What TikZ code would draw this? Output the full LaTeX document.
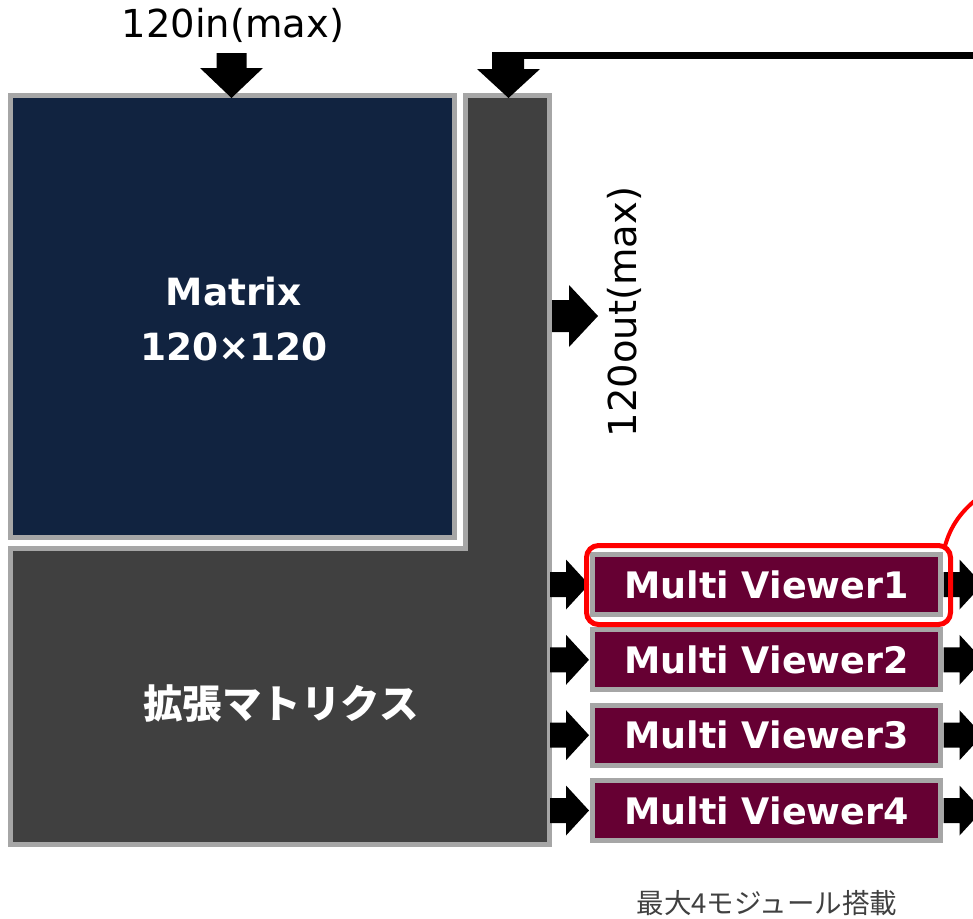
\documentclass[tikz,border=0pt]{standalone}
\usepackage{fontspec}
\setmainfont{DejaVu Sans}
\newfontfamily\jp{Noto Sans CJK JP}
\definecolor{navy}{RGB}{17,35,64}
\definecolor{dgray}{RGB}{64,64,64}
\definecolor{bgray}{RGB}{166,166,166}
\definecolor{mvred}{RGB}{102,0,51}
\tikzset{
  box/.style={draw=bgray, line width=5pt},
  blockarrow/.style={fill=black},
  mvbox/.style={box, fill=mvred, minimum width=348pt, minimum height=60pt, inner sep=0pt,
    text=white, font=\bfseries\fontsize{36.5}{40}\selectfont},
  rarr/.pic={\fill[black] (0,-12.5) -- (16,-12.5) -- (16,-25) -- (39,0) -- (16,25) -- (16,12.5) -- (0,12.5) -- cycle;},
  bigtext/.style={font=\fontsize{38.5}{44}\selectfont, inner sep=0pt},
  boldtext/.style={font=\bfseries\fontsize{37.5}{44}\selectfont, text=white, inner sep=0pt}
}
\begin{document}
\begin{tikzpicture}[x=1pt,y=-1pt]
\useasboundingbox (0,0) rectangle (973,918);
\clip (0,0) rectangle (973,918);

% Matrix box
\node[box, fill=navy, minimum width=443.5pt, minimum height=441.5pt, inner sep=0pt] (matrix) at (232.25,316.25) {};
\node[boldtext, anchor=base] (mtitle) at (234,305) {Matrix};
\node[boldtext, anchor=base] (msize) at (234,360) {120×120};

% L-shaped expansion matrix
\draw[box, fill=dgray] (465,95.5) -- (549.5,95.5) -- (549.5,844.5) -- (10.5,844.5) -- (10.5,548.5) -- (465,548.5) -- cycle;
\node[font=\jp\bfseries\fontsize{39.5}{44}\selectfont, text=white, inner sep=0pt] (ext) at (281,703) {拡張マトリクス};

% top input label and arrow
\node[bigtext, anchor=base] (inlabel) at (233,37) {120in(max)};
\fill[black] (216.5,53) -- (246.5,53) -- (246.5,68) -- (263,68) -- (231.5,98) -- (200,68) -- (216.5,68) -- cycle;

% feedback line and arrow
\fill[black] (492,52) -- (524,52) -- (524,69) -- (540,69) -- (508.5,98) -- (477,69) -- (492,69) -- cycle;
\draw[black, line width=7pt] (520,55.8) -- (985,55.8);

% 120out arrow and label
\fill[black] (552,300) -- (569,300) -- (569,285) -- (598,316) -- (569,347) -- (569,332) -- (552,332) -- cycle;
\node[bigtext, rotate=90] (outlabel) at (624,312) {120out(max)};

% Multi viewers
\node[mvbox] (mv1) at (766.5,584.5) {Multi Viewer1};
\node[mvbox] (mv2) at (766.5,659.8) {Multi Viewer2};
\node[mvbox] (mv3) at (766.5,735.2) {Multi Viewer3};
\node[mvbox] (mv4) at (766.5,810.5) {Multi Viewer4};
\foreach \m in {mv1,mv2,mv3,mv4}{
  \pic at ([xshift=-40pt]\m.west) {rarr};
  \pic at ([xshift=0.5pt]\m.east) {rarr};
}

% highlight
\node[draw=red, line width=5pt, rounded corners=12pt, minimum width=364pt, minimum height=79pt, inner sep=0pt] (hl) at (768.5,585) {};
\draw[red, line width=4pt] (945,546) .. controls (950,528) and (960,510) .. (985,493);

% footnote
\node[font=\jp\fontsize{27.5}{30}\selectfont, text=dgray, inner sep=0pt] (note) at (767,903) {最大4モジュール搭載};
\end{tikzpicture}
\end{document}
